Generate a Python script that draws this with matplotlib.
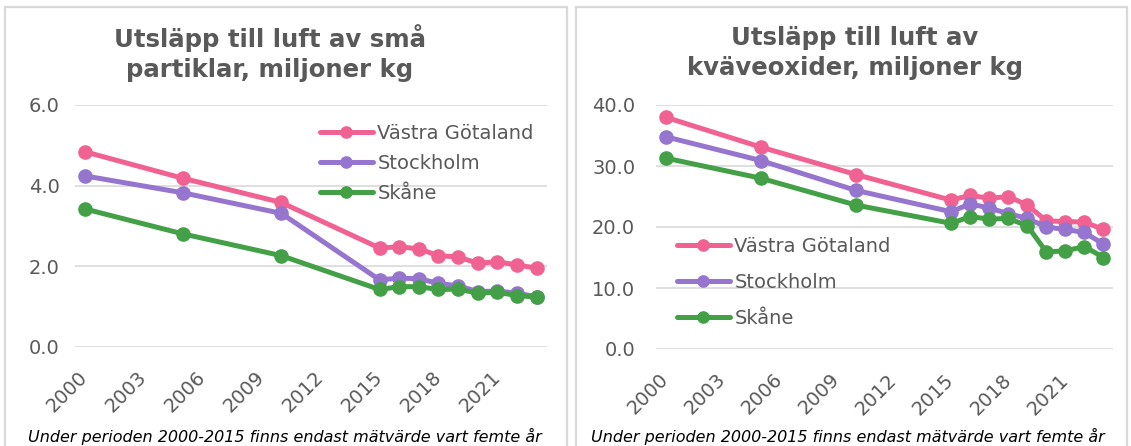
import matplotlib
matplotlib.use("Agg")
import matplotlib.pyplot as plt
from matplotlib.patches import Rectangle

years = [2000, 2005, 2010, 2015, 2016, 2017, 2018, 2019, 2020, 2021, 2022, 2023]
series_names = ["Västra Götaland", "Stockholm", "Skåne"]

# Small particles, million kg
pm_vg = [4.84, 4.18, 3.58, 2.45, 2.48, 2.43, 2.26, 2.23, 2.07, 2.11, 2.03, 1.95]
pm_sth = [4.24, 3.82, 3.31, 1.66, 1.70, 1.69, 1.57, 1.51, 1.37, 1.38, 1.33, 1.24]
pm_sk = [3.42, 2.80, 2.26, 1.42, 1.49, 1.49, 1.42, 1.43, 1.33, 1.35, 1.27, 1.23]

# Nitrogen oxides, million kg
nox_vg = [38.0, 33.1, 28.6, 24.4, 25.2, 24.7, 25.0, 23.6, 21.0, 20.9, 20.8, 19.6]
nox_sth = [34.8, 30.9, 26.0, 22.5, 23.8, 23.1, 22.2, 21.4, 20.0, 19.6, 19.1, 17.2]
nox_sk = [31.3, 28.0, 23.6, 20.6, 21.7, 21.3, 21.4, 20.2, 15.9, 16.1, 16.8, 15.0]

xtick_years = [2000, 2003, 2006, 2009, 2012, 2015, 2018, 2021]
titles = ["Utsläpp till luft av små\npartiklar, miljoner kg",
          "Utsläpp till luft av\nkväveoxider, miljoner kg"]
note = "Under perioden 2000-2015 finns endast mätvärde vart femte år"

colors = ["#F06292", "#9575CD", "#43A047"]
text_col = "#595959"
grid_col = "#D9D9D9"

W, H = 1131, 446
fig = plt.figure(figsize=(W / 100, H / 100), dpi=100)
fig.patch.set_facecolor("white")

def px_rect(x0, y0, x1, y1):
    return [x0 / W, 1 - y1 / H, (x1 - x0) / W, (y1 - y0) / H]

# panel borders
for (x0, x1) in [(5, 567), (576, 1127)]:
    fig.patches.append(Rectangle((x0 / W, -0.05), (x1 - x0) / W, 1 - 7 / H + 0.05,
                                 transform=fig.transFigure, fill=False,
                                 edgecolor=grid_col, linewidth=1.6))

panels = [
    dict(rect=px_rect(75, 105, 546.5, 346.7), data=[pm_vg, pm_sth, pm_sk],
         ylim=(0, 6), yticks=[0, 2, 4, 6],
         leg=(320, 124), labelspacing=0.56, ypad=11),
    dict(rect=px_rect(656, 105, 1113, 349), data=[nox_vg, nox_sth, nox_sk],
         ylim=(0, 40), yticks=[0, 10, 20, 30, 40],
         leg=(677, 237), labelspacing=0.88, ypad=15),
]

for p in panels:
    ax = fig.add_axes(p["rect"])
    ax.set_facecolor("none")
    for vals, name, c in zip(p["data"], series_names, colors):
        ax.plot(years, vals, color=c, linewidth=3.6, marker="o", markersize=9.5,
                label=name, clip_on=False, solid_capstyle="round")
    ax.set_xlim(1999.5, 2023.5)
    ax.set_ylim(*p["ylim"])
    ax.set_yticks(p["yticks"])
    ax.set_yticklabels([f"{v:.1f}" for v in p["yticks"]])
    ax.set_xticks(xtick_years)
    ax.set_xticklabels([str(y) for y in xtick_years], rotation=45, ha="right",
                       rotation_mode="anchor", va="center")
    for s in ax.spines.values():
        s.set_visible(False)
    ax.grid(axis="y", color=grid_col, linewidth=1.2)
    ax.set_axisbelow(True)
    ax.tick_params(axis="both", length=0, labelsize=14, labelcolor=text_col)
    ax.tick_params(axis="y", pad=p["ypad"])
    ax.tick_params(axis="x", pad=20)
    lx, ly = p["leg"]
    ax.legend(loc="upper left", bbox_to_anchor=(lx / W, 1 - ly / H),
              bbox_transform=fig.transFigure, frameon=False, fontsize=14,
              handlelength=2.7, handletextpad=0.25, borderpad=0,
              borderaxespad=0, labelspacing=p["labelspacing"],
              labelcolor=text_col, markerscale=0.85)

# titles
for (tx, t) in zip([270, 855], titles):
    fig.text(tx / W, 1 - 53 / H, t, ha="center", va="center", fontsize=17.6,
             fontweight="bold", color=text_col, linespacing=1.3)

# notes
for nx in [285, 848]:
    fig.text(nx / W, 1 - 436 / H, note, ha="center", va="center", fontsize=11.5,
             style="italic", color="black")

fig.savefig("out.png", dpi=100, facecolor="white")
